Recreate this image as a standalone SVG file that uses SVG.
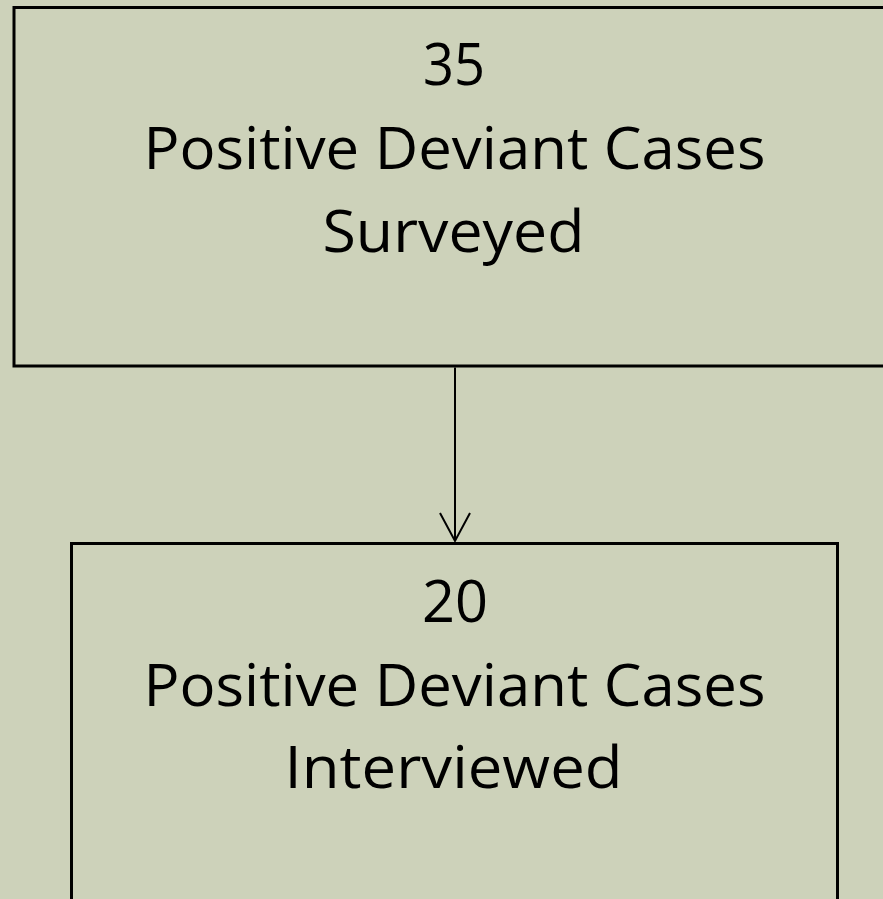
<svg xmlns="http://www.w3.org/2000/svg" width="883" height="899" viewBox="0 0 883 899">
  <style>
    .box { fill: #CDD2BA; stroke: #000; stroke-width: 3; }
    .lbl { font-family: "Open Sans", "Noto Sans", sans-serif; font-size: 58px; fill: #000; text-anchor: middle; }
    .conn { stroke: #000; stroke-width: 2; fill: none; }
  </style>
  <rect x="0" y="0" width="883" height="899" fill="#CDD2BA"/>
  <g id="node-surveyed">
    <rect class="box" x="14" y="7.5" width="880" height="358.5"/>
    <text class="lbl" x="454" y="85" textLength="62" lengthAdjust="spacingAndGlyphs">35</text>
    <text class="lbl" x="454.5" y="169" textLength="622" lengthAdjust="spacingAndGlyphs">Positive Deviant Cases</text>
    <text class="lbl" x="453.5" y="252" textLength="262" lengthAdjust="spacingAndGlyphs">Surveyed</text>
  </g>
  <g id="node-interviewed">
    <rect class="box" x="71.5" y="543.5" width="766" height="380"/>
    <text class="lbl" x="455" y="622" textLength="66" lengthAdjust="spacingAndGlyphs">20</text>
    <text class="lbl" x="454.5" y="706" textLength="622" lengthAdjust="spacingAndGlyphs">Positive Deviant Cases</text>
    <text class="lbl" x="453.5" y="788" textLength="338" lengthAdjust="spacingAndGlyphs">Interviewed</text>
  </g>
  <g id="connectors">
    <line class="conn" x1="455" y1="367.5" x2="455" y2="541"/>
    <polyline class="conn" points="440,513 455,541 470,513"/>
  </g>
</svg>
